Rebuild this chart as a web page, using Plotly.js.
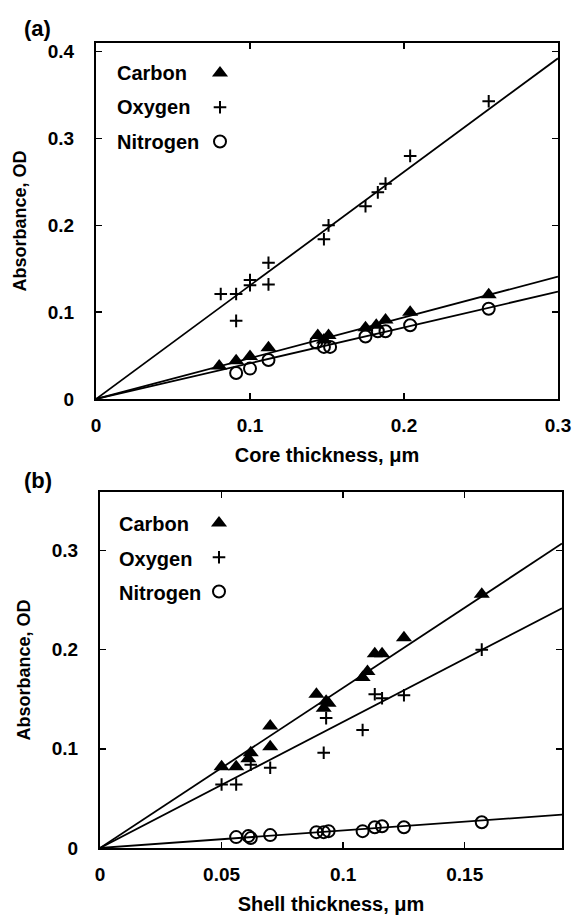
<!DOCTYPE html>
<html>
<head>
<meta charset="utf-8">
<script src="https://cdn.plot.ly/plotly-3.0.1.min.js"></script>
<style>html,body{margin:0;padding:0;background:#fff;}#chart{width:574px;height:920px;}</style>
</head>
<body>
<div id="chart"></div>
<script>
// ---------- data ----------
var seriesNames = ["Carbon", "Oxygen", "Nitrogen"];
var panelLabels = ["(a)", "(b)"];
var xTitles = ["Core thickness, μm", "Shell thickness, μm"];
var yTitle = "Absorbance, OD";

// Panel (a): core thickness
var coreCarbonX = [0.080, 0.091, 0.100, 0.112, 0.144, 0.148, 0.151, 0.175, 0.182, 0.188, 0.204, 0.255];
var coreCarbonY = [0.038, 0.044, 0.049, 0.059, 0.073, 0.068, 0.073, 0.082, 0.085, 0.091, 0.100, 0.120];
var coreOxygenX = [0.081, 0.091, 0.091, 0.100, 0.100, 0.112, 0.112, 0.148, 0.151, 0.175, 0.183, 0.188, 0.204, 0.255];
var coreOxygenY = [0.121, 0.121, 0.090, 0.137, 0.131, 0.157, 0.132, 0.184, 0.200, 0.222, 0.238, 0.248, 0.280, 0.343];
var coreNitrogenX = [0.091, 0.100, 0.112, 0.143, 0.148, 0.152, 0.175, 0.183, 0.188, 0.204, 0.255];
var coreNitrogenY = [0.030, 0.035, 0.045, 0.065, 0.060, 0.060, 0.072, 0.078, 0.078, 0.085, 0.104];
var coreSlopes = [0.470, 1.308, 0.412]; // Carbon, Oxygen, Nitrogen fit lines through origin

// Panel (b): shell thickness
var shellCarbonX = [0.050, 0.056, 0.061, 0.062, 0.070, 0.070, 0.089, 0.092, 0.093, 0.094, 0.108, 0.110, 0.113, 0.116, 0.125, 0.157];
var shellCarbonY = [0.082, 0.082, 0.090, 0.096, 0.123, 0.102, 0.155, 0.141, 0.148, 0.146, 0.172, 0.178, 0.196, 0.196, 0.212, 0.256];
var shellOxygenX = [0.050, 0.056, 0.062, 0.070, 0.092, 0.093, 0.108, 0.113, 0.116, 0.125, 0.157];
var shellOxygenY = [0.064, 0.064, 0.084, 0.081, 0.096, 0.131, 0.119, 0.155, 0.151, 0.154, 0.200];
var shellNitrogenX = [0.056, 0.061, 0.062, 0.070, 0.089, 0.092, 0.094, 0.108, 0.113, 0.116, 0.125, 0.157];
var shellNitrogenY = [0.011, 0.012, 0.010, 0.013, 0.016, 0.016, 0.017, 0.017, 0.021, 0.022, 0.021, 0.026];
var shellSlopes = [1.616, 1.272, 0.177];

var coreXTicks = [0, 0.1, 0.2, 0.3];
var coreXTickText = ["0", "0.1", "0.2", "0.3"];
var coreYTicks = [0, 0.1, 0.2, 0.3, 0.4];
var coreYTickText = ["0", "0.1", "0.2", "0.3", "0.4"];
var shellXTicks = [0, 0.05, 0.1, 0.15];
var shellXTickText = ["0", "0.05", "0.1", "0.15"];
var shellYTicks = [0, 0.1, 0.2, 0.3];
var shellYTickText = ["0", "0.1", "0.2", "0.3"];
var coreXRange = [0, 0.3], coreYRange = [0, 0.41];
var shellXRange = [0, 0.19], shellYRange = [0, 0.359];

// ---------- styling ----------
var W = 574, H = 920;
var FONT = "Liberation Sans, Arial, Helvetica, sans-serif";
function px(x) { return x / W; }
function py(y) { return 1 - y / H; }

var symbols = ["triangle-up", "cross-thin", "circle-open"];
var sizes = [14, 9, 12];

var panels = [
  {xs: [coreCarbonX, coreOxygenX, coreNitrogenX], ys: [coreCarbonY, coreOxygenY, coreNitrogenY], slopes: coreSlopes, xr: coreXRange, xa: "x", ya: "y", legend: "legend"},
  {xs: [shellCarbonX, shellOxygenX, shellNitrogenX], ys: [shellCarbonY, shellOxygenY, shellNitrogenY], slopes: shellSlopes, xr: shellXRange, xa: "x2", ya: "y2", legend: "legend2"}
];

var traces = [];
panels.forEach(function (p) {
  // fit lines
  p.slopes.forEach(function (s) {
    traces.push({
      type: "scatter", mode: "lines", x: [p.xr[0], p.xr[1]], y: [s * p.xr[0], s * p.xr[1]],
      xaxis: p.xa, yaxis: p.ya, showlegend: false, hoverinfo: "skip",
      line: {color: "#000", width: 1.8}
    });
  });
  // points
  seriesNames.forEach(function (n, i) {
    var sym = symbols[i];
    traces.push({
      type: "scatter", mode: "markers", name: "", x: p.xs[i], y: p.ys[i],
      xaxis: p.xa, yaxis: p.ya, legend: p.legend, showlegend: true, cliponaxis: false,
      marker: {
        symbol: sym, size: sizes[i], color: "#000",
        line: {color: "#000", width: sym === "triangle-up" ? 0 : 2}
      }
    });
  });
});

function axisBase(extra) {
  var a = {
    showline: true, linewidth: 2, linecolor: "#000", mirror: "ticks",
    ticks: "inside", ticklen: 6, tickwidth: 1.5, tickcolor: "#000",
    showgrid: false, zeroline: false, fixedrange: true,
    tickfont: {family: FONT, size: 19, color: "#000", weight: "bold"},
    automargin: false
  };
  for (var k in extra) a[k] = extra[k];
  return a;
}

var annotations = [];
// legend labels (text left of markers)
var legendTextX = [115, 117];
var legendTextY = [[73, 107, 142], [524, 559, 593]];
[0, 1].forEach(function (pi) {
  seriesNames.forEach(function (n, i) {
    annotations.push({
      xref: "paper", yref: "paper", x: px(legendTextX[pi]), y: py(legendTextY[pi][i]),
      xanchor: "left", yanchor: "middle", showarrow: false, text: n,
      font: {family: FONT, size: 20, color: "#000", weight: "bold"}
    });
  });
});
// panel labels
var panelLabelY = [28, 480];
panelLabels.forEach(function (t, i) {
  annotations.push({
    xref: "paper", yref: "paper", x: px(22), y: py(panelLabelY[i]),
    xanchor: "left", yanchor: "middle", showarrow: false, text: t,
    font: {family: FONT, size: 22, color: "#000", weight: "bold"}
  });
});

var layout = {
  width: W, height: H,
  margin: {l: 0, r: 0, t: 0, b: 0, pad: 0},
  paper_bgcolor: "#fff", plot_bgcolor: "#fff",
  font: {family: FONT, color: "#000"},
  xaxis: axisBase({domain: [px(96), px(558)], range: coreXRange, anchor: "y",
    tickvals: coreXTicks, ticktext: coreXTickText, ticklabelstandoff: 8,
    title: {text: xTitles[0], font: {family: FONT, size: 20, color: "#000", weight: "bold"}, standoff: 13}}),
  yaxis: axisBase({domain: [py(399), py(43)], range: coreYRange, anchor: "x",
    tickvals: coreYTicks, ticktext: coreYTickText, ticklabelstandoff: 16,
    title: {text: yTitle, font: {family: FONT, size: 18, color: "#000", weight: "bold"}, standoff: 16}}),
  xaxis2: axisBase({domain: [px(100), px(562)], range: shellXRange, anchor: "y2",
    tickvals: shellXTicks, ticktext: shellXTickText, ticklabelstandoff: 8,
    title: {text: xTitles[1], font: {family: FONT, size: 20, color: "#000", weight: "bold"}, standoff: 13}}),
  yaxis2: axisBase({domain: [py(848), py(492)], range: shellYRange, anchor: "x2",
    tickvals: shellYTicks, ticktext: shellYTickText, ticklabelstandoff: 16,
    title: {text: yTitle, font: {family: FONT, size: 18, color: "#000", weight: "bold"}, standoff: 16}}),
  legend: {x: px(200), y: py(51), xanchor: "left", yanchor: "top", bgcolor: "rgba(0,0,0,0)",
    borderwidth: 0, font: {size: 24}, tracegroupgap: 0},
  legend2: {x: px(199), y: py(501), xanchor: "left", yanchor: "top", bgcolor: "rgba(0,0,0,0)",
    borderwidth: 0, font: {size: 24}, tracegroupgap: 0},
  annotations: annotations,
  showlegend: true
};

Plotly.newPlot("chart", traces, layout, {staticPlot: true, displayModeBar: false});
</script>
</body>
</html>
